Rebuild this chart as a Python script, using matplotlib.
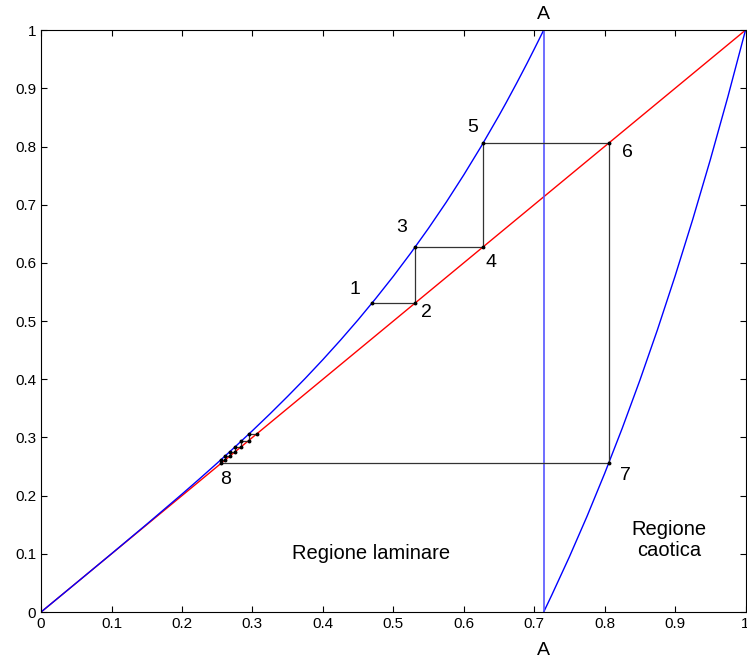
import numpy as np
import matplotlib.pyplot as plt

plt.rcParams['font.family'] = ['Liberation Sans', 'DejaVu Sans']

# ramo sinistro della mappa
x_lam = [0, 0.05, 0.1, 0.15, 0.2, 0.225, 0.25, 0.275, 0.3, 0.325, 0.35, 0.375, 0.4,
         0.425, 0.45, 0.475, 0.5, 0.525, 0.55, 0.575, 0.6, 0.625, 0.65, 0.66,
         0.675, 0.685, 0.69, 0.7, 0.705, 0.7135]
y_lam = [0, 0.05, 0.1002, 0.1509, 0.2026, 0.229, 0.2559, 0.2834, 0.3116, 0.3406,
         0.3706, 0.4015, 0.4337, 0.4672, 0.5021, 0.5387, 0.5769, 0.6172, 0.6595,
         0.704, 0.7511, 0.8007, 0.8531, 0.8749, 0.9086, 0.9317, 0.9433, 0.9672,
         0.9793, 1.0]

# ramo destro
x_cao = [0.7135, 0.725, 0.75, 0.775, 0.8, 0.825, 0.85, 0.875, 0.9, 0.925, 0.95, 0.975, 1.0]
y_cao = [0, 0.0292, 0.0949, 0.1644, 0.238, 0.3158, 0.3981, 0.4851, 0.5772, 0.6744,
         0.7771, 0.8856, 1.0]

x_A = 0.7135

# orbita (cobweb)
orbita = [0.47, 0.531, 0.628, 0.806, 0.2555, 0.2615, 0.268, 0.2755, 0.284, 0.2945, 0.3065]

etichette = ['1', '2', '3', '4', '5', '6', '7', '8']
etich_x = [0.446, 0.547, 0.512, 0.639, 0.612, 0.832, 0.829, 0.262]
etich_y = [0.555, 0.514, 0.661, 0.601, 0.832, 0.790, 0.235, 0.227]

fig = plt.figure(figsize=(7.47, 6.62), dpi=100)
ax = fig.add_axes([0.055, 0.0755, 0.943, 0.879])

ax.plot([0, 1], [0, 1], color='red', lw=1)
ax.plot(x_lam, y_lam, color='blue', lw=1)
ax.plot(x_cao, y_cao, color='blue', lw=1)
ax.plot([x_A, x_A], [0, 1], color='#5555ff', lw=1.2)

# percorso della cobweb
px, py = [orbita[0]], [orbita[1]]
for a, b in zip(orbita[1:-1], orbita[2:]):
    px += [a, a]
    py += [a, b]
px.append(orbita[-1])
py.append(orbita[-1])
ax.plot(px, py, color='#333333', lw=0.9, marker='o', ms=1.8, mfc='black', mec='black')

for t, x, y in zip(etichette, etich_x, etich_y):
    ax.text(x, y, t, fontsize=14, ha='center', va='center')

ax.text(x_A, 1.026, 'A', fontsize=14, ha='center', va='center')
ax.text(x_A, -0.066, 'A', fontsize=14, ha='center', va='center')
ax.text(0.469, 0.101, 'Regione laminare', fontsize=14.5, ha='center', va='center')
ax.text(0.891, 0.124, 'Regione\ncaotica', fontsize=14.5, ha='center', va='center',
        linespacing=1.1)

ticks = np.round(np.arange(0, 1.01, 0.1), 1)
labels = ['0'] + ['%.1f' % t for t in ticks[1:-1]] + ['1']
ax.set_xticks(ticks)
ax.set_xticklabels(labels)
ax.set_yticks(ticks)
ax.set_yticklabels(labels)
ax.set_xlim(0, 1)
ax.set_ylim(0, 1)
ax.tick_params(direction='in', top=True, right=True, labelsize=11, length=4.5)

plt.savefig('out.png', dpi=100)
